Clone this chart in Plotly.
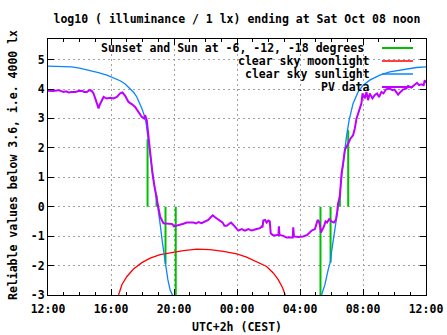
import plotly.graph_objects as go

# ---------------- data (hours since 12:00 on Fri Oct 07) ----------------
tick_hours = [0, 4, 8, 12, 16, 20, 24]
tick_labels = ["12:00", "16:00", "20:00", "00:00", "04:00", "08:00", "12:00"]

sun_h = [0, 1.0, 1.5, 2.0, 2.68, 3.2, 3.74, 4.2, 4.58, 4.9, 5.22, 5.45, 5.64, 5.8,
         5.96, 6.1, 6.23, 6.38, 6.55, 6.7, 6.85, 7.01, 7.14, 7.27, 7.44, 7.61, 7.75,
         7.9, 8.05, 17.2, 17.37, 17.58, 17.79, 17.94, 18.0, 18.21, 18.36, 18.49, 18.64,
         18.78, 18.95, 19.12, 19.37, 19.69, 20.01, 20.43, 21.07, 21.7, 22.54, 23.39, 24]
sun_v = [4.78, 4.77, 4.75, 4.71, 4.63, 4.56, 4.47, 4.38, 4.28, 4.17, 4.02, 3.88, 3.73, 3.55,
         3.34, 3.12, 2.85, 2.2, 1.47, 0.91, 0.46, -0.11, -0.67, -1.24, -1.92, -2.48, -2.82,
         -3.0, -3.3, -3.3, -3.0, -2.65, -2.14, -1.85, -1.55, -0.84, -0.22, 0.23, 1.02,
         1.70, 2.38, 2.94, 3.51, 3.90, 4.13, 4.30, 4.47, 4.58, 4.66, 4.73, 4.75]

moon_h = [4.48, 4.69, 5.01, 5.43, 5.96, 6.49, 7.12, 7.75, 8.60, 9.45, 10.29, 11.13,
          11.98, 12.61, 13.25, 13.88, 14.30, 14.62, 14.90, 15.06]
moon_v = [-3.0, -2.65, -2.37, -2.12, -1.90, -1.75, -1.63, -1.56, -1.49, -1.44, -1.46, -1.52,
          -1.60, -1.71, -1.86, -2.03, -2.25, -2.48, -2.76, -3.0]

event_h = [6.32, 6.89, 7.46, 8.11, 17.30, 17.94, 18.53, 19.06]
event_top = [2.29, 0.4, -1.94, -3.3, -3.3, -1.9, 0.4, 2.6]

pv_h = [0.0, 0.33, 0.67, 0.99, 1.15, 1.31, 1.5, 1.73, 1.95, 2.15, 2.3, 2.47, 2.6, 2.68, 2.8,
        2.89, 3.0, 3.1, 3.18, 3.21, 3.27, 3.38, 3.53, 3.64, 3.74, 3.95, 4.16, 4.37, 4.58,
        4.73, 4.90, 5.11, 5.25, 5.36, 5.53, 5.74, 5.96, 6.10, 6.17, 6.27, 6.34, 6.42, 6.53,
        6.63, 6.76, 6.89, 7.01, 7.12, 7.33, 7.65, 7.90, 7.99, 8.18, 8.39, 8.60, 8.81, 9.23,
        9.40, 9.55, 9.75, 9.97, 10.18, 10.33, 10.46, 10.61, 10.75, 10.92, 11.09, 11.20,
        11.35, 11.51, 11.62, 11.77, 11.89, 11.98, 12.08, 12.30, 12.51, 12.72, 12.93, 13.25,
        13.46, 13.57, 13.62, 13.67, 13.78, 13.88, 13.99, 14.08, 14.14, 14.26, 14.41, 14.56,
        14.63, 14.66, 14.70, 14.94, 15.15, 15.47, 15.54, 15.57, 15.62, 15.89, 16.20, 16.46,
        16.63, 16.74, 16.95, 17.05, 17.12, 17.20, 17.26, 17.33, 17.43, 17.52, 17.62, 17.72,
        17.85, 18.00, 18.15, 18.28, 18.36, 18.42, 18.53, 18.64, 18.74, 18.85, 19.06, 19.21,
        19.37, 19.48, 19.59, 19.69, 19.80, 19.90, 19.97, 20.11, 20.22, 20.32, 20.43, 20.60,
        20.74, 20.89, 21.02, 21.17, 21.30, 21.45, 21.66, 21.87, 22.0, 22.12, 22.23, 22.38,
        22.54, 22.76, 22.86, 23.07, 23.28, 23.43, 23.56, 23.70, 23.85, 23.92, 24.0]
pv_v = [3.94, 3.93, 3.96, 3.90, 3.92, 3.88, 3.90, 3.90, 3.93, 3.94, 3.90, 3.90, 3.95, 3.96, 3.92,
        3.85, 3.68, 3.51, 3.45, 3.34, 3.45, 3.56, 3.73, 3.70, 3.68, 3.70, 3.68, 3.73, 3.85,
        3.88, 3.77, 3.56, 3.52, 3.47, 3.39, 3.22, 3.05, 3.0, 3.11, 2.94, 2.60, 2.04, 1.59,
        1.14, 0.68, 0.29, -0.05, -0.34, -0.56, -0.59, -0.59, -0.67, -0.65, -0.62, -0.58, -0.54, -0.54,
        -0.57, -0.52, -0.56, -0.50, -0.45, -0.36, -0.29, -0.36, -0.42, -0.47, -0.54, -0.65,
        -0.65, -0.58, -0.54, -0.62, -0.70, -0.76, -0.81, -0.76, -0.81, -0.76, -0.81, -0.76,
        -0.73, -0.67, -0.70, -0.47, -0.45, -0.54, -0.47, -0.50, -0.90, -0.96, -0.98, -0.96,
        -0.96, -0.67, -0.96, -0.99, -1.05, -1.05, -1.05, -0.70, -1.01, -1.03, -1.01, -0.96,
        -0.86, -0.81, -0.76, -0.56, -0.45, -0.50, -0.62, -0.88, -0.79, -0.67, -0.50, -0.54,
        -0.42, -0.50, -0.54, -0.45, -0.17, 0.12, 0.34, 1.14, 1.47, 1.93, 2.15, 2.32,
        2.43, 2.66, 3.0, 3.17, 3.28, 3.51, 3.85, 3.68, 3.90, 3.62, 3.85, 3.68,
        3.79, 3.85, 3.73, 3.90, 3.85, 3.98, 4.02, 3.96, 3.98, 3.87, 3.81, 3.90,
        3.98, 4.02, 4.10, 4.05, 4.13, 4.21, 4.13, 4.16, 4.13, 4.30, 4.21]

legend_names = ["Sunset and Sun at -6, -12, -18 degrees", "clear sky moonlight",
                "clear sky sunlight", "PV data"]

# ---------------- styling ----------------
FONT = dict(family="DejaVu Sans Mono", size=11.5, color="black", weight="bold")
C_GREEN, C_RED, C_BLUE, C_PURPLE = "#00c000", "#ff0000", "#0a84ff", "#c000ff"

W, H = 447, 335
L, R, T, B = 48, 21, 39, 40
PW, PH = W - L - R, H - T - B


def px2paper_x(px):
    return (px - L) / PW


def px2paper_y(py):
    return (H - B - py) / PH


fig = go.Figure()

# green impulses
gx, gy = [], []
for h, top in zip(event_h, event_top):
    gx += [h, h, None]
    gy += [0, top, None]
fig.add_trace(go.Scatter(x=gx, y=gy, mode="lines", line=dict(color=C_GREEN, width=2),
                         showlegend=False, hoverinfo="skip"))
fig.add_trace(go.Scatter(x=moon_h, y=moon_v, mode="lines", line=dict(color=C_RED, width=1.3),
                         showlegend=False))
fig.add_trace(go.Scatter(x=sun_h, y=sun_v, mode="lines", line=dict(color=C_BLUE, width=1.3),
                         showlegend=False))
fig.add_trace(go.Scatter(x=pv_h, y=pv_v, mode="lines", line=dict(color=C_PURPLE, width=2),
                         showlegend=False))

axis_common = dict(
    showline=True, linecolor="black", linewidth=1, mirror="ticks",
    ticks="inside", ticklen=6, tickcolor="black", tickwidth=1,
    showgrid=True, gridcolor="#a0a0a0", gridwidth=1, griddash="2px,3px",
    zeroline=False, tickfont=FONT, automargin=False,
)

fig.update_xaxes(range=[0, 24], tickvals=tick_hours, ticktext=tick_labels,
                 ticklabelstandoff=3,
                 minor=dict(dtick=1, tick0=0, ticks="inside", ticklen=3, tickcolor="black",
                            showgrid=False),
                 **axis_common)
fig.update_yaxes(range=[-3, 5.699], tickvals=list(range(-3, 6)),
                 ticktext=[str(v) for v in range(-3, 6)], **axis_common)

# opaque key box (hides grid but not curves)
fig.add_shape(type="rect", xref="paper", yref="paper",
              x0=px2paper_x(99), x1=px2paper_x(419), y0=px2paper_y(92), y1=1.0,
              fillcolor="white", line=dict(width=0), layer="between")

key_rows_y = [48, 61, 74, 87]
key_text_right = [366, 372, 372, 372]
key_colors = [C_GREEN, C_RED, C_BLUE, C_PURPLE]
annotations = []
for name, ry, rx, col in zip(legend_names, key_rows_y, key_text_right, key_colors):
    annotations.append(dict(text=name, xref="paper", yref="paper",
                            x=px2paper_x(rx), y=px2paper_y(ry), xanchor="right",
                            yanchor="middle", showarrow=False, font=FONT))
    fig.add_shape(type="line", xref="paper", yref="paper",
                  x0=px2paper_x(382), x1=px2paper_x(413),
                  y0=px2paper_y(ry), y1=px2paper_y(ry),
                  line=dict(color=col, width=2 if col in (C_GREEN, C_PURPLE) else 1.5))

annotations.append(dict(text="UTC+2h (CEST)", xref="paper", yref="paper",
                        x=px2paper_x(237), y=px2paper_y(327), xanchor="center",
                        yanchor="middle", showarrow=False, font=FONT))
annotations.append(dict(text="Reliable values below 3.6, i.e. 4000 lx", xref="paper",
                        yref="paper", x=px2paper_x(13), y=px2paper_y(165), textangle=-90,
                        xanchor="center", yanchor="middle", showarrow=False, font=FONT))

fig.update_layout(
    width=W, height=H,
    margin=dict(l=L, r=R, t=T, b=B),
    paper_bgcolor="white", plot_bgcolor="white",
    title=dict(text="log10 ( illuminance / 1 lx) ending at Sat Oct 08 noon",
               x=237 / W, xref="container", xanchor="center",
               y=1 - 19 / H, yref="container", yanchor="middle", font=FONT),
    annotations=annotations,
    showlegend=False,
)

fig.write_html("out.html")
